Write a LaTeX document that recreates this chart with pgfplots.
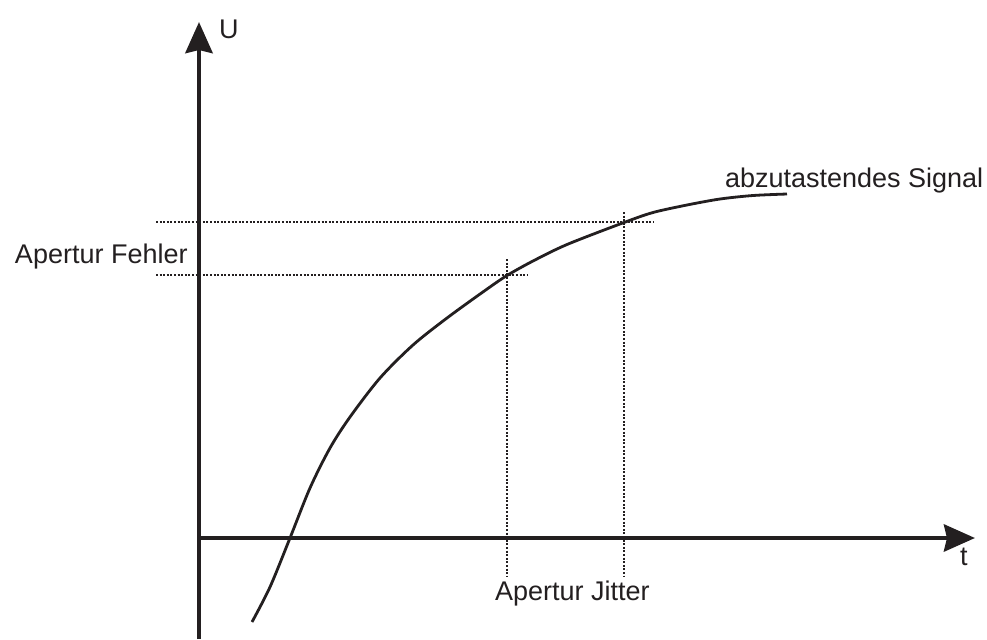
\documentclass[border=0pt]{standalone}
\usepackage{pgfplots}
\pgfplotsset{compat=1.18}
\usepackage{fontspec}
\setmainfont{Liberation Sans}
\usetikzlibrary{arrows.meta}
\definecolor{ink}{RGB}{35,31,32}
\tikzset{lbl/.style={font=\fontsize{13.5}{16}\selectfont, text=ink, inner sep=0pt, outer sep=0pt, anchor=base west},
  dots/.style={ink, line width=1.25pt, dash pattern=on 1pt off 0.8pt}}
\begin{document}
\begin{tikzpicture}
\useasboundingbox (0,0) rectangle (493.5pt,319.5pt);
\begin{axis}[
  x=0.5pt, y=0.5pt,
  xmin=0, xmax=987, ymin=0, ymax=639,
  y dir=reverse,
  enlargelimits=false,
  hide axis, clip=false,
]
% axes
\addplot[ink, line width=2.4pt, -{Stealth[length=15.5pt,width=13.5pt,inset=1.5pt]}] coordinates {(199,639) (199,22)};
\addplot[ink, line width=2.3pt, -{Stealth[length=15.5pt,width=13.5pt,inset=1.5pt]}] coordinates {(197,538) (975,538)};
% dotted guide lines
\addplot[dots] coordinates {(156,222) (653,222)};
\addplot[dots] coordinates {(156,275) (527,275)};
\addplot[dots] coordinates {(507,259) (507,576)};
\addplot[dots] coordinates {(624,212) (624,577)};
% signal
\addplot[ink, line width=1.4pt, smooth] coordinates {
(252,622) (270,587) (290,538) (310,488) (330,448) (350,417) (380,378)
(413,345) (447,318) (485,290.5) (507,275.5) (533,261) (567,244.5)
(624,222.5) (653,212.5) (687,205) (720,199) (753,195.5) (787,194)};
% labels
\node[lbl] at (axis cs:219,38) {U};
\node[lbl] at (axis cs:960,565) {t};
\node[lbl] at (axis cs:15,263) {Apertur Fehler};
\node[lbl] at (axis cs:495,600) {Apertur Jitter};
\node[lbl] at (axis cs:725,187) {abzutastendes Signal};
\end{axis}
\end{tikzpicture}
\end{document}
